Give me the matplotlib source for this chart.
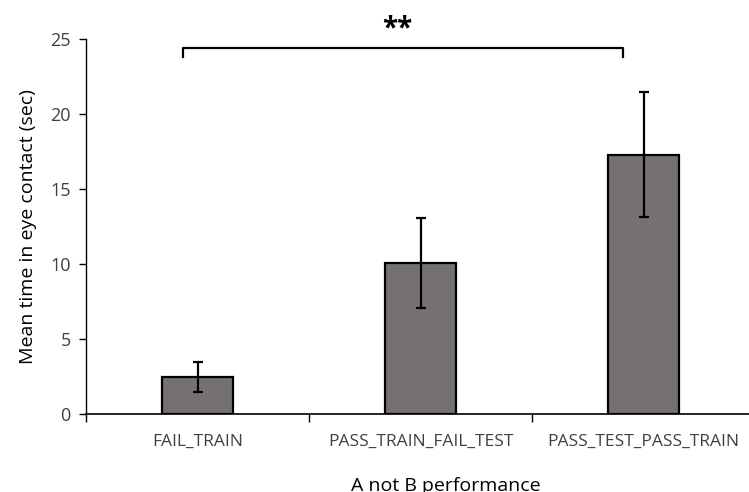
import numpy as np
import matplotlib.pyplot as plt

# data
groups = ['FAIL_TRAIN', 'PASS_TRAIN_FAIL_TEST', 'PASS_TEST_PASS_TRAIN']
means = [2.5, 10.1, 17.3]
errors = [1.0, 3.0, 4.2]
yticks = [0, 5, 10, 15, 20, 25]

plt.rcParams['font.family'] = ['Open Sans', 'DejaVu Sans']

fig = plt.figure(figsize=(7.49, 4.92), dpi=100)
ax = fig.add_axes([86 / 749, 78 / 492, 669 / 749, 375 / 492])

x = np.arange(len(groups))
ax.bar(x, means, width=0.32, color='#767171', edgecolor='black', linewidth=1.6, zorder=2)
ax.errorbar(x, means, yerr=errors, fmt='none', ecolor='black', elinewidth=1.6,
            capsize=3.5, capthick=1.6, zorder=3)

ax.set_xlim(-0.5, 2.5)
ax.set_ylim(0, 25)
ax.set_yticks(yticks)
ax.set_xticks(x)
ax.set_xticklabels(groups, fontsize=12.5, color='#404040')
ax.set_xticks([-0.5, 0.5, 1.5], minor=True)
ax.tick_params(axis='x', which='major', length=0, pad=14)
ax.tick_params(axis='x', which='minor', length=6, width=1)
ax.tick_params(axis='y', length=5, width=1, labelsize=13, labelcolor='#404040', pad=6)

for s in ['top', 'right']:
    ax.spines[s].set_visible(False)
ax.spines['left'].set_linewidth(1)
ax.spines['bottom'].set_linewidth(1.2)

ax.set_ylabel('Mean time in eye contact (sec)', fontsize=14)
ax.yaxis.set_label_coords(-0.073, 0.5)
ax.set_xlabel('A not B performance', fontsize=14)
ax.xaxis.set_label_coords(0.538, -0.192)
ax.xaxis.label.set_va('center')

# significance bracket
bx0, bx1 = -0.065, 1.91
ax.plot([bx0, bx0, bx1, bx1], [23.8, 24.4, 24.4, 23.8], color='black', lw=1.6,
        clip_on=False, zorder=4)
ax.text(0.895, 25.7, '**', ha='center', va='center', fontsize=20, fontweight='bold',
        clip_on=False)

fig.savefig('out.png', dpi=100)
